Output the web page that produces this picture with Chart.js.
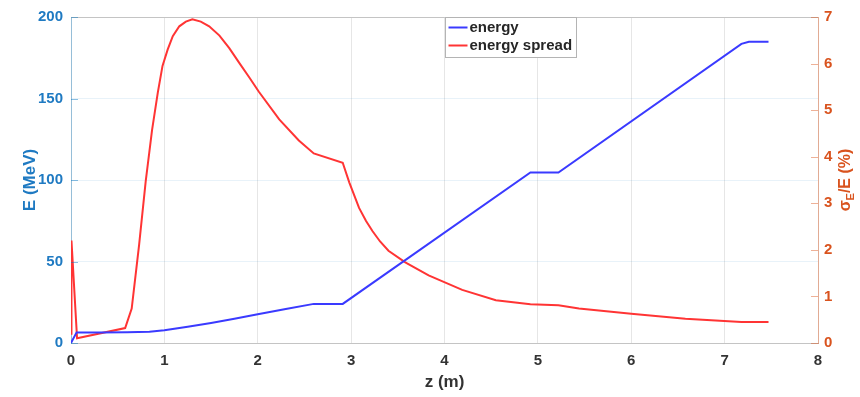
<!DOCTYPE html>
<html>
<head>
<meta charset="utf-8">
<script src="https://cdn.jsdelivr.net/npm/chart.js@4.4.0/dist/chart.umd.min.js"></script>
<style>
  html, body { margin: 0; padding: 0; background: #fff; }
  #wrap { width: 860px; height: 397px; }
</style>
</head>
<body>
<div id="wrap"><canvas id="beam" width="860" height="397"></canvas></div>
<script>
// beam energy along the linac (MeV)
const zEnergy = [0, 0.06, 0.3, 0.6, 0.84, 1.0, 1.25, 1.5, 1.75, 2.0, 2.3, 2.6, 2.91, 4.92, 5.22, 7.18, 7.26, 7.47];
const energy  = [0, 6.5, 6.5, 6.6, 6.9, 7.8, 10.0, 12.3, 14.9, 17.6, 20.8, 24, 24, 104.6, 104.6, 183.5, 184.8, 184.8];

// relative energy spread (%)
const zSpread = [0, 0.005, 0.065, 0.58, 0.65, 0.73, 0.8, 0.868, 0.93, 0.98, 1.035, 1.09, 1.16, 1.23, 1.30,
                 1.39, 1.48, 1.59, 1.695, 1.80, 1.91, 2.01, 2.23, 2.44, 2.60, 2.91, 2.98, 3.085, 3.16, 3.23, 3.31, 3.40,
                 3.58, 3.83, 4.19, 4.55, 4.92, 5.22, 5.44, 6.0, 6.58, 7.18, 7.47];
const spread  = [0.2, 2.2, 0.1, 0.32, 0.74, 2.12, 3.47, 4.57, 5.38, 5.95, 6.3, 6.59, 6.8, 6.9, 6.95,
                 6.9, 6.8, 6.6, 6.33, 6.02, 5.70, 5.40, 4.80, 4.35, 4.07, 3.87, 3.45, 2.9, 2.62, 2.4, 2.18, 1.98,
                 1.73, 1.45, 1.14, 0.92, 0.83, 0.81, 0.74, 0.63, 0.52, 0.45, 0.45];

const zTicks = [0, 1, 2, 3, 4, 5, 6, 7, 8];
const seriesNames = ['energy', 'energy spread'];

const BLUE = '#3a3aff';
const RED = '#ff3434';
const LEFT_COLOR = '#1f7ac2';
const RIGHT_COLOR = '#d9531e';
const FONT = 'Liberation Sans, Arial, sans-serif';

function toPoints(xs, ys) {
    return xs.map((x, i) => ({ x: x, y: ys[i] }));
}

// legend box in the top of the plot, plus top frame line and right axis label with subscript
const decorations = {
    id: 'decorations',
    afterDraw(chart) {
        const ctx = chart.ctx;
        const area = chart.chartArea;
        ctx.save();

        ctx.strokeStyle = '#c4c4c4';
        ctx.lineWidth = 1;
        ctx.beginPath();
        ctx.moveTo(area.left, area.top + 0.5);
        ctx.lineTo(area.right, area.top + 0.5);
        ctx.stroke();

        // small inward tick marks on both value axes
        const yl = chart.scales.y, yr = chart.scales.y1;
        ctx.strokeStyle = 'rgba(0,114,189,0.45)';
        yl.ticks.forEach(t => {
            const py = Math.round(yl.getPixelForValue(t.value)) + 0.5;
            ctx.beginPath();
            ctx.moveTo(area.left, py);
            ctx.lineTo(area.left + 7, py);
            ctx.stroke();
        });
        ctx.strokeStyle = 'rgba(217,83,25,0.45)';
        yr.ticks.forEach(t => {
            const py = Math.round(yr.getPixelForValue(t.value)) + 0.5;
            ctx.beginPath();
            ctx.moveTo(area.right - 7, py);
            ctx.lineTo(area.right, py);
            ctx.stroke();
        });

        // legend
        const bx = 445.5, by = 17.5, bw = 131, bh = 40;
        ctx.fillStyle = '#fff';
        ctx.fillRect(bx, by, bw, bh);
        ctx.strokeStyle = '#b4b4b4';
        ctx.lineWidth = 1;
        ctx.strokeRect(bx, by, bw, bh);
        ctx.font = 'bold 15px ' + FONT;
        ctx.textBaseline = 'middle';
        ctx.textAlign = 'left';
        chart.data.datasets.forEach((ds, i) => {
            const ly = by + 10 + i * 18;
            ctx.strokeStyle = ds.borderColor;
            ctx.lineWidth = 2;
            ctx.beginPath();
            ctx.moveTo(bx + 3, ly);
            ctx.lineTo(bx + 22, ly);
            ctx.stroke();
            ctx.fillStyle = '#262626';
            ctx.fillText(ds.label, bx + 24, ly);
        });

        // right axis title: sigma_E/E (%)
        ctx.translate(846, (area.top + area.bottom) / 2);
        ctx.rotate(-Math.PI / 2);
        ctx.fillStyle = RIGHT_COLOR;
        ctx.textBaseline = 'middle';
        const big = 'bold 16px ' + FONT;
        const small = 'bold 11px ' + FONT;
        ctx.font = big;
        const w1 = ctx.measureText('\u03c3').width;
        const w3 = ctx.measureText('/E (%)').width;
        ctx.font = small;
        const w2 = ctx.measureText('E').width;
        let x = -(w1 + w2 + w3) / 2;
        ctx.font = big;
        ctx.fillText('\u03c3', x, 0);
        x += w1;
        ctx.font = small;
        ctx.fillText('E', x, 5);
        x += w2;
        ctx.font = big;
        ctx.fillText('/E (%)', x, 0);
        ctx.restore();
    }
};

const ctx = document.getElementById('beam').getContext('2d');
const chart = new Chart(ctx, {
    type: 'line',
    data: {
        datasets: [
            {
                label: seriesNames[0],
                data: toPoints(zEnergy, energy),
                borderColor: BLUE,
                borderWidth: 2,
                pointRadius: 0,
                tension: 0,
                yAxisID: 'y'
            },
            {
                label: seriesNames[1],
                data: toPoints(zSpread, spread),
                borderColor: RED,
                borderWidth: 2,
                pointRadius: 0,
                tension: 0,
                yAxisID: 'y1'
            }
        ]
    },
    options: {
        responsive: false,
        animation: false,
        layout: { padding: { top: 14, left: 0, right: 0, bottom: 0 } },
        plugins: {
            legend: { display: false },
            tooltip: { enabled: false }
        },
        scales: {
            x: {
                type: 'linear',
                min: 0,
                max: 8,
                afterBuildTicks: (s) => { s.ticks = zTicks.map(v => ({ value: v })); },
                afterFit: (s) => { s.height = 54; },
                ticks: {
                    color: '#333',
                    padding: 9,
                    font: { family: FONT, size: 15, weight: 'bold' }
                },
                grid: { color: '#e6e6e6', drawTicks: false },
                border: { color: '#c4c4c4' },
                title: {
                    display: true,
                    text: 'z (m)',
                    color: '#333',
                    font: { family: FONT, size: 17, weight: 'bold', lineHeight: 1.2 },
                    padding: { top: 0, bottom: 4 }
                }
            },
            y: {
                position: 'left',
                min: 0,
                max: 200,
                afterFit: (s) => { s.width = 71; },
                ticks: {
                    stepSize: 50,
                    color: LEFT_COLOR,
                    padding: 8,
                    font: { family: FONT, size: 15, weight: 'bold' }
                },
                grid: { color: 'rgba(0,114,189,0.09)', drawTicks: false },
                border: { color: 'rgba(0,114,189,0.35)' },
                title: {
                    display: true,
                    text: 'E (MeV)',
                    color: LEFT_COLOR,
                    font: { family: FONT, size: 17, weight: 'bold', lineHeight: 1.2 },
                    padding: { top: 20, bottom: 0 }
                }
            },
            y1: {
                position: 'right',
                min: 0,
                max: 7,
                afterFit: (s) => { s.width = 42; },
                ticks: {
                    stepSize: 1,
                    color: RIGHT_COLOR,
                    padding: 6,
                    font: { family: FONT, size: 15, weight: 'bold' }
                },
                grid: { drawOnChartArea: false, drawTicks: false },
                border: { color: 'rgba(217,83,25,0.4)' }
            }
        }
    },
    plugins: [decorations]
});
</script>
</body>
</html>
